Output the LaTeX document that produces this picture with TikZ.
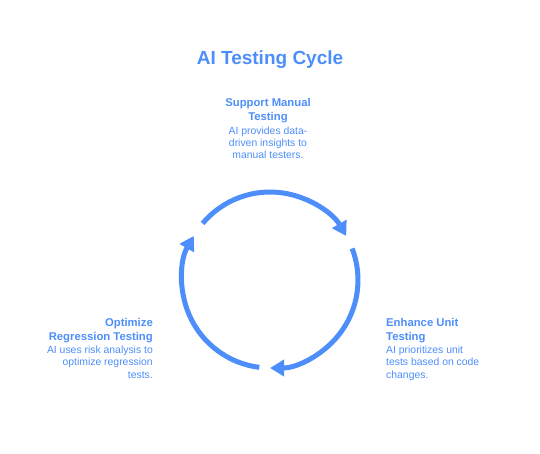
\documentclass[tikz,border=0pt]{standalone}
\usepackage{fontspec}
\setmainfont{Liberation Sans}
\usetikzlibrary{arrows.meta}
\definecolor{cycleblue}{HTML}{4D8EFA}
\newcommand{\stephead}[1]{{\fontsize{11.3}{13.5}\selectfont\bfseries #1}}

\tikzset{
		cycle/.style={
			x=1pt, y=1pt,
			every node/.style={text=cycleblue, inner sep=0pt}
		},
		titlefont/.style={font=\fontsize{19}{22}\selectfont\bfseries},
		stepfont/.style={font=\fontsize{10.4}{12.2}\selectfont},
		cyclearc/.style={draw=cycleblue, line width=5pt,
			-{Triangle[length=14pt,width=16pt]}}
	}

\begin{document}
\begin{tikzpicture}[cycle]
				\useasboundingbox (0,0) rectangle (540,453);
				\coordinate (hub) at (270,173);
				% title
				\node[titlefont] (title) at (270,393) {AI Testing Cycle};
				% the three steps
				\node[stepfont, align=center, anchor=north] (manual) at (268,354.5)
					{\stephead{Support Manual}\\[1.5pt]\stephead{Testing}\\[1.5pt]AI provides data-\\driven insights to\\manual testers.};
				\node[stepfont, align=left, anchor=north west] (unit) at (386,135)
					{\stephead{Enhance Unit}\\[1.5pt]\stephead{Testing}\\[1.5pt]AI prioritizes unit\\tests based on code\\changes.};
				\node[stepfont, align=right, anchor=north east] (regression) at (153,135)
					{\stephead{Optimize}\\[1.5pt]\stephead{Regression Testing}\\[1.5pt]AI uses risk analysis to\\optimize regression\\tests.};
				% arcs of the cycle
				\draw[cyclearc] ([shift={(140:88)}]hub) arc[start angle=140, end angle=30, radius=88];
				\draw[cyclearc] ([shift={(21:88)}]hub) arc[start angle=21, end angle=-90, radius=88];
				\draw[cyclearc] ([shift={(-97:88)}]hub) arc[start angle=-97, end angle=-210, radius=88];
			\end{tikzpicture}
\end{document}
